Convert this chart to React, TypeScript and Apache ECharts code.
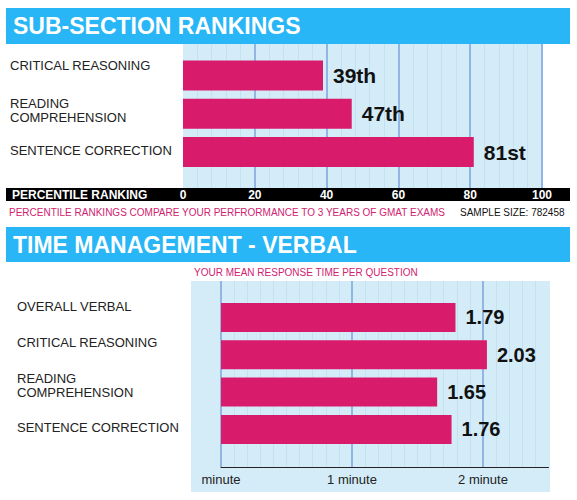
import React, { useEffect, useRef } from "react";
import * as echarts from "echarts";

// Sub-section percentile rankings
const rankCategories = ["CRITICAL REASONING", "READING\nCOMPREHENSION", "SENTENCE CORRECTION"];
const rankValues = [39, 47, 81];

// Mean response time per question (minutes)
const timeCategories = ["OVERALL VERBAL", "CRITICAL REASONING", "READING\nCOMPREHENSION", "SENTENCE CORRECTION"];
const timeValues = [1.79, 2.03, 1.65, 1.76];
const timeTickLabels = ["minute", "1 minute", "2 minute"];

const FONT = "'Liberation Sans', Arial, Helvetica, sans-serif";
const BANNER = "#29b6f6";
const BAR = "#d81b6b";
const PLOT_BG = "#d4ecf8";
const MAJOR = "#7ba4de";
const MINOR = "#c3e1f0";
const PINK_TEXT = "#d0226f";

function ordinal(n: number): string {
  const s = n % 100;
  if (s >= 11 && s <= 13) return n + "th";
  switch (n % 10) {
    case 1: return n + "st";
    case 2: return n + "nd";
    case 3: return n + "rd";
    default: return n + "th";
  }
}

// per-row upward nudge of the left-hand labels (height of a blank trailing line, px)
const rankLabelLift = [20, 7, 4];
const timeLabelLift = [22, 24, 14, 3];

// rich-text formatter that appends an empty spacer line under each label
function liftedLabels(lifts: number[]) {
  const rich: Record<string, any> = { n: { fontSize: 13, lineHeight: 14 } };
  lifts.forEach((h, i) => {
    rich["s" + i] = { fontSize: 1, lineHeight: h, height: h };
  });
  const formatter = (value: string, index: number) => {
    const lines = value.split("\n").map((line) => `{n|${line}}`);
    return lines.join("\n") + `\n{s${index}| }`;
  };
  return { rich, formatter };
}

export default function App() {
  const ref = useRef<HTMLDivElement>(null);

  useEffect(() => {
    if (!ref.current) return;
    const chart = echarts.init(ref.current, undefined, { renderer: "svg" });

    const rankLab = liftedLabels(rankLabelLift);
    const timeLab = liftedLabels(timeLabelLift);

    chart.setOption({
      animation: false,
      textStyle: { fontFamily: FONT },
      grid: [
        { left: 183, top: 44, width: 359, height: 144, outerBoundsMode: "none", containLabel: false },
        { left: 183, top: 56.4, width: 359, height: 114.75, outerBoundsMode: "none", containLabel: false },
        { left: 221, top: 281, width: 327.5, height: 186, outerBoundsMode: "none", containLabel: false },
        { left: 221, top: 298.8, width: 327.5, height: 149.3, outerBoundsMode: "none", containLabel: false },
      ],
      xAxis: [
        {
          gridIndex: 0, type: "value", min: 0, max: 100, interval: 20,
          axisLine: { show: false }, axisTick: { show: false },
          axisLabel: { color: "#ffffff", fontWeight: "bold", fontSize: 12, margin: 1, fontFamily: FONT },
          splitLine: { show: true, showMinLine: false, lineStyle: { color: MAJOR, width: 1.5 } },
          minorTick: { show: false, splitNumber: 5 },
          minorSplitLine: { show: true, lineStyle: { color: MINOR, width: 1 } },
        },
        { gridIndex: 1, type: "value", min: 0, max: 100, show: false },
        {
          gridIndex: 2, type: "value", min: 0, max: 2.5, interval: 1,
          axisLine: { show: true, lineStyle: { color: "#222222", width: 1 } },
          axisTick: { show: false },
          axisLabel: {
            color: "#222222", fontSize: 13, margin: 6, fontFamily: FONT,
            formatter: (v: number) => (Number.isInteger(v) && timeTickLabels[v] !== undefined ? timeTickLabels[v] : ""),
          },
          splitLine: { show: true, showMaxLine: false, lineStyle: { color: MAJOR, width: 1.5 } },
          minorTick: { show: false, splitNumber: 10 },
          minorSplitLine: { show: true, lineStyle: { color: MINOR, width: 1 } },
        },
        { gridIndex: 3, type: "value", min: 0, max: 2.5, show: false },
      ],
      yAxis: [
        { gridIndex: 0, type: "value", min: 0, max: 1, show: false },
        {
          gridIndex: 1, type: "category", inverse: true, data: rankCategories,
          axisLine: { show: false }, axisTick: { show: false },
          axisLabel: {
            align: "left", margin: 173, color: "#222222", fontSize: 13, lineHeight: 14, fontFamily: FONT,
            formatter: rankLab.formatter, rich: rankLab.rich,
          },
        },
        { gridIndex: 2, type: "value", min: 0, max: 1, show: false },
        {
          gridIndex: 3, type: "category", inverse: true, data: timeCategories,
          axisLine: { show: false }, axisTick: { show: false },
          axisLabel: {
            align: "left", margin: 204, color: "#222222", fontSize: 13, lineHeight: 14, fontFamily: FONT,
            formatter: timeLab.formatter, rich: timeLab.rich,
          },
        },
      ],
      series: [
        {
          type: "bar", xAxisIndex: 1, yAxisIndex: 1, data: rankValues, barWidth: 30,
          itemStyle: { color: BAR },
          label: {
            show: true, position: "right", distance: 10, color: "#111111",
            fontWeight: "bold", fontSize: 21, fontFamily: FONT,
            formatter: (p: any) => ordinal(p.value),
          },
        },
        {
          type: "bar", xAxisIndex: 3, yAxisIndex: 3, data: timeValues, barWidth: 29,
          itemStyle: { color: BAR },
          label: {
            show: true, position: "right", distance: 10, color: "#111111",
            fontWeight: "bold", fontSize: 20, fontFamily: FONT,
            formatter: (p: any) => Number(p.value).toFixed(2),
          },
        },
      ],
      graphic: [
        // plot backgrounds
        { type: "rect", z: -5, shape: { x: 183, y: 44, width: 360, height: 144 }, style: { fill: PLOT_BG } },
        { type: "rect", z: -5, shape: { x: 191, y: 281, width: 359, height: 211 }, style: { fill: PLOT_BG } },
        // section banners
        { type: "rect", z: 5, shape: { x: 6, y: 8, width: 564, height: 36 }, style: { fill: BANNER } },
        {
          type: "text", z: 6, x: 13, y: 26,
          style: { text: "SUB-SECTION RANKINGS", fill: "#ffffff", font: `bold 23px ${FONT}`, verticalAlign: "middle" },
        },
        { type: "rect", z: 5, shape: { x: 6, y: 227, width: 564, height: 35 }, style: { fill: BANNER } },
        {
          type: "text", z: 6, x: 13, y: 245,
          style: { text: "TIME MANAGEMENT - VERBAL", fill: "#ffffff", font: `bold 23px ${FONT}`, verticalAlign: "middle" },
        },
        // percentile axis band
        { type: "rect", z: -4, shape: { x: 6, y: 188, width: 564, height: 13 }, style: { fill: "#000000" } },
        {
          type: "text", z: 6, x: 12, y: 195,
          style: { text: "PERCENTILE RANKING", fill: "#ffffff", font: `bold 12px ${FONT}`, verticalAlign: "middle" },
        },
        {
          type: "text", z: 6, x: 9, y: 212,
          style: {
            text: "PERCENTILE RANKINGS COMPARE YOUR PERFRORMANCE TO 3 YEARS OF GMAT EXAMS",
            fill: PINK_TEXT, font: `10px ${FONT}`, verticalAlign: "middle",
          },
        },
        {
          type: "text", z: 6, x: 460, y: 212,
          style: { text: "SAMPLE SIZE: 782458", fill: "#111111", font: `10px ${FONT}`, verticalAlign: "middle" },
        },
        {
          type: "text", z: 6, x: 194, y: 272,
          style: { text: "YOUR MEAN RESPONSE TIME PER QUESTION", fill: PINK_TEXT, font: `10px ${FONT}`, verticalAlign: "middle" },
        },
      ],
    });

    return () => chart.dispose();
  }, []);

  return (
    <div
      ref={ref}
      style={{ position: "absolute", left: 0, top: 0, width: 577, height: 500, background: "#ffffff" }}
    />
  );
}
